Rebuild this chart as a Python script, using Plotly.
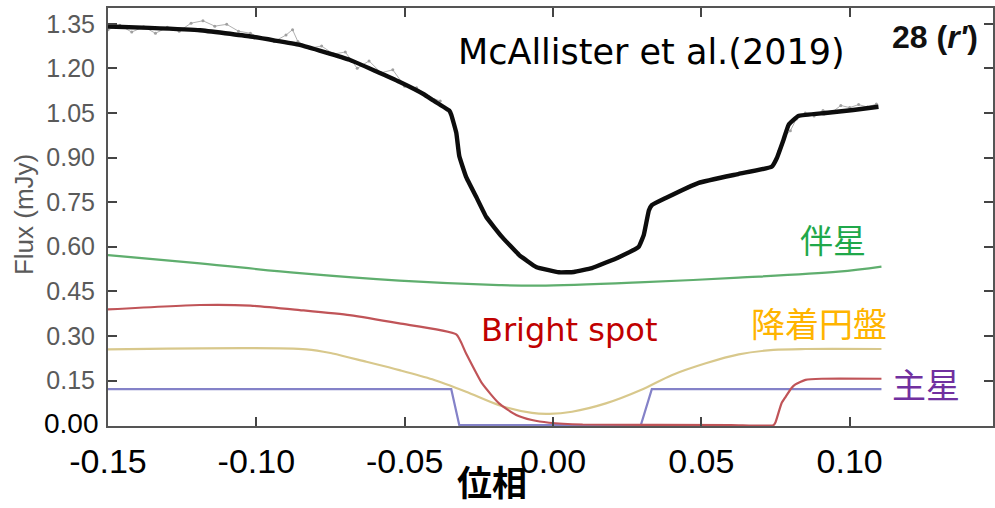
import plotly.graph_objects as go

# ---------------- data ----------------
# total observed flux (thick black)
phase_total = [-0.150, -0.136, -0.119, -0.102, -0.0854, -0.0686, -0.0518, -0.0434, -0.0407,
               -0.0350, -0.0343, -0.0326, -0.0316, -0.0293, -0.0259, -0.0225,
               -0.0172, -0.0114, -0.0057, 0.0020, 0.0070, 0.0131, 0.0222, 0.0289, 0.0306,
               0.0323, 0.0333, 0.0380, 0.0491, 0.0626, 0.0737, 0.0753, 0.0777, 0.0794,
               0.0827, 0.0918, 0.1012, 0.1097]
flux_total = [1.341, 1.336, 1.328, 1.307, 1.279, 1.229, 1.155, 1.112, 1.094,
              1.058, 1.044, 0.983, 0.905, 0.835, 0.768, 0.700,
              0.633, 0.572, 0.532, 0.514, 0.515, 0.528, 0.565, 0.600, 0.640,
              0.722, 0.740, 0.764, 0.815, 0.845, 0.869, 0.895, 0.960, 1.010,
              1.040, 1.050, 1.060, 1.071]

# individual noisy observations (light grey)
phase_obs = [-0.150, -0.146, -0.142, -0.138, -0.134, -0.130, -0.126, -0.122, -0.118, -0.114,
             -0.110, -0.106, -0.102, -0.098, -0.094, -0.090, -0.0878, -0.086, -0.082, -0.078,
             -0.074, -0.070, -0.066, -0.062, -0.058, -0.054, -0.050, -0.046, -0.042, -0.038]
flux_obs = [1.330, 1.345, 1.322, 1.340, 1.318, 1.338, 1.325, 1.352, 1.360, 1.342,
            1.348, 1.325, 1.318, 1.300, 1.290, 1.312, 1.330, 1.290, 1.268, 1.275,
            1.248, 1.255, 1.200, 1.225, 1.185, 1.195, 1.140, 1.135, 1.105, 1.090]
phase_obs2 = [0.076, 0.078, 0.080, 0.082, 0.085, 0.088, 0.091, 0.094, 0.097, 0.100,
              0.103, 0.106, 0.109]
flux_obs2 = [0.920, 0.970, 0.990, 1.030, 1.050, 1.040, 1.058, 1.052, 1.075, 1.068,
             1.078, 1.070, 1.080]

# companion star (green)
phase_comp = [-0.150, -0.119, -0.0854, -0.0518, -0.0182, -0.0047, 0.0289, 0.0626, 0.0962, 0.1107]
flux_comp = [0.572, 0.544, 0.511, 0.486, 0.471, 0.469, 0.480, 0.496, 0.516, 0.533]

# bright spot (red)
phase_spot = [-0.150, -0.119, -0.102, -0.0854, -0.0686, -0.0518, -0.0326, -0.0293, -0.0239,
              -0.0182, -0.0124, -0.0071, -0.0013, 0.0100, 0.0600, 0.0743, 0.0750, 0.0770,
              0.0784, 0.0804, 0.0817, 0.0851, 0.0905, 0.1107]
flux_spot = [0.389, 0.404, 0.402, 0.387, 0.370, 0.342, 0.305, 0.241, 0.140,
             0.073, 0.034, 0.017, 0.008, 0.002, 0.000, 0.000, 0.010, 0.073,
             0.095, 0.125, 0.137, 0.152, 0.156, 0.156]

# accretion disc (tan)
phase_disc = [-0.150, -0.0831, -0.0743, -0.0629, -0.0518, -0.0407, -0.0293, -0.0182, -0.0071,
              -0.0013, 0.0064, 0.0178, 0.0296, 0.0400, 0.0515, 0.0626, 0.0743, 0.0851, 0.1107]
flux_disc = [0.255, 0.255, 0.241, 0.213, 0.185, 0.154, 0.112, 0.067, 0.041,
             0.038, 0.045, 0.073, 0.118, 0.168, 0.208, 0.238, 0.253, 0.256, 0.256]

# primary white dwarf (purple)
phase_prim = [-0.150, -0.0343, -0.0316, 0.0296, 0.0333, 0.1107]
flux_prim = [0.121, 0.121, 0.000, 0.000, 0.121, 0.121]

x_ticks = [-0.15, -0.10, -0.05, 0.00, 0.05, 0.10]
x_ticktext = ["-0.15", "-0.10", "-0.05", "0.00", "0.05", "0.10"]
y_ticks = [0.15, 0.30, 0.45, 0.60, 0.75, 0.90, 1.05, 1.20, 1.35]
y_ticktext = ["0.15", "0.30", "0.45", "0.60", "0.75", "0.90", "1.05", "1.20", "1.35"]

# ---------------- figure ----------------
fig = go.Figure()

line_w = 2.2
fig.add_trace(go.Scatter(x=phase_comp, y=flux_comp, mode="lines", line=dict(color="#5fae6e", width=line_w, shape="spline")))
fig.add_trace(go.Scatter(x=phase_disc, y=flux_disc, mode="lines", line=dict(color="#d8c88c", width=line_w, shape="spline", smoothing=0.8)))
fig.add_trace(go.Scatter(x=phase_prim, y=flux_prim, mode="lines", line=dict(color="#8482c8", width=line_w)))
fig.add_trace(go.Scatter(x=phase_spot, y=flux_spot, mode="lines", line=dict(color="#c05458", width=line_w, shape="spline", smoothing=0.5)))
fig.add_trace(go.Scatter(x=phase_obs, y=flux_obs, mode="lines+markers", line=dict(color="#b0b0b0", width=1),
                         marker=dict(size=3, color="#a0a0a0")))
fig.add_trace(go.Scatter(x=phase_obs2, y=flux_obs2, mode="lines+markers", line=dict(color="#b0b0b0", width=1),
                         marker=dict(size=3, color="#a0a0a0")))
fig.add_trace(go.Scatter(x=phase_total, y=flux_total, mode="lines", line=dict(color="#0d0d0d", width=4.4, shape="spline", smoothing=0.3)))

jp = "Noto Sans CJK JP"
annotations = [
    dict(text="McAllister et al.(2019)", x=0.6144, y=0.8947, font=dict(family="DejaVu Sans", size=35, color="black")),
    dict(text="<b>28 (<i>r'</i>)</b>", x=0.934, y=0.9306, font=dict(family="Liberation Sans", size=32, color="#111")),
    dict(text="伴星", x=0.8196, y=0.4474, font=dict(family=jp, size=33, color="#1fa84a")),
    dict(text="Bright spot", x=0.5209, y=0.2297, font=dict(family="DejaVu Sans", size=32, color="#c00000")),
    dict(text="降着円盤", x=0.8038, y=0.2488, font=dict(family=jp, size=34, color="#ffb400")),
    dict(text="主星", x=0.9245, y=0.1005, font=dict(family=jp, size=34, color="#7030a0")),
    dict(text="<b>位相</b>", x=0.434, y=-0.131, font=dict(family=jp, size=35, color="black")),
    dict(text="Flux (mJy)", x=-0.0947, y=0.505, textangle=-90, font=dict(family="Liberation Sans", size=26, color="#5a5a5a")),
]
for a in annotations:
    a.update(xref="paper", yref="paper", showarrow=False, xanchor="center", yanchor="middle")
annotations.append(dict(text="0.00", x=-0.008, xref="paper", y=0.005, yref="y", showarrow=False,
                        xanchor="right", yanchor="middle", font=dict(family="Liberation Sans", size=28, color="black")))

fig.update_layout(
    width=995, height=508,
    margin=dict(l=108, r=0, t=8, b=82),
    paper_bgcolor="white", plot_bgcolor="white",
    showlegend=False,
    annotations=annotations,
    xaxis=dict(range=[-0.15, 0.1483], tickvals=x_ticks, ticktext=x_ticktext,
               ticks="inside", ticklen=9, tickwidth=2, tickcolor="#444",
               showline=True, linecolor="#555", linewidth=2, mirror="ticks",
               showgrid=False, zeroline=False, ticklabelstandoff=4,
               tickfont=dict(family="Liberation Sans", size=34, color="black")),
    yaxis=dict(range=[-0.003, 1.403], tickvals=y_ticks, ticktext=y_ticktext,
               ticks="inside", ticklen=9, tickwidth=2, tickcolor="#444",
               showline=True, linecolor="#555", linewidth=2, mirror="ticks",
               showgrid=False, zeroline=False, ticklabelstandoff=6,
               tickfont=dict(family="Liberation Sans", size=25, color="#5a5a5a")),
)

fig.write_html("out.html")
